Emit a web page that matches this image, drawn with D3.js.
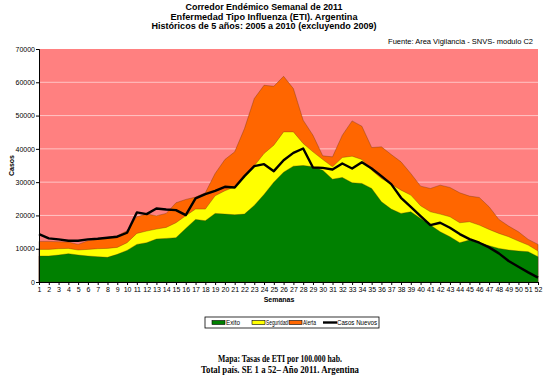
<!DOCTYPE html>
<html>
<head>
<meta charset="utf-8">
<script src="https://cdn.jsdelivr.net/npm/d3@7"></script>
<style>
  body { margin: 0; background: #fff; }
  svg { display: block; }
  .tick text { font-family: Arial, "Liberation Sans", sans-serif; font-size: 7px; }
</style>
</head>
<body>
<svg id="chart" width="550" height="379"></svg>
<script>
// weekly values (tops of each band, cumulative)
const weeks = d3.range(1, 53);
const exito = [7800, 7800, 8100, 8500, 8100, 7800, 7600, 7400, 8300, 9500,
  11300, 11800, 12900, 13100, 13300, 16100, 18800, 18400, 20600, 20400,
  20200, 20400, 23000, 26300, 30000, 33000, 34800, 35000, 34600, 33600,
  30900, 31400, 29800, 29600, 28100, 24100, 21900, 20600, 21100, 19100,
  17100, 15100, 13600, 11800, 12600, 11800, 10900, 10100, 9600, 9300,
  9100, 7600];
const seguridad = [9800, 9800, 10000, 10100, 9600, 9800, 10000, 10100, 10400, 11800,
  14600, 15300, 15900, 16400, 17800, 19900, 21900, 21900, 25900, 27400,
  28600, 31600, 34900, 38600, 41100, 45100, 45100, 41600, 39100, 36800,
  34600, 37400, 37800, 36800, 33600, 31100, 29400, 27600, 26100, 22900,
  21100, 20400, 19600, 17800, 18100, 17100, 15800, 14600, 13600, 12300,
  11100, 9300];
const alerta = [12200, 12200, 12100, 12000, 11300, 12400, 12800, 13400, 13900, 15400,
  19600, 20400, 19900, 20600, 23800, 24800, 25500, 26800, 32600, 36800,
  39100, 46100, 55100, 59100, 58800, 61800, 58100, 48600, 44100, 37900,
  37600, 44100, 48400, 46800, 40400, 40600, 38300, 36100, 32600, 28800,
  28100, 29100, 28400, 26800, 25800, 25400, 22600, 18800, 16800, 15100,
  12800, 11300];
const casosNuevos = [14400, 13100, 12800, 12400, 12400, 12800, 13000, 13300, 13600, 14800,
  20900, 20400, 22100, 21800, 21600, 20100, 25100, 26400, 27400, 28600,
  28400, 31800, 34800, 35400, 33300, 36600, 38800, 40100, 34400, 34300,
  33800, 35600, 34100, 36000, 34100, 31800, 29400, 25300, 22600, 19800,
  17100, 17800, 16300, 14400, 12900, 11800, 10400, 8600, 6300, 4600,
  2900, 1300];
const yTicks = [0, 10000, 20000, 30000, 40000, 50000, 60000, 70000];
const titleLines = [
  "Corredor Endémico Semanal de 2011",
  "Enfermedad Tipo Influenza (ETI).  Argentina",
  "Históricos de 5 años: 2005 a 2010 (excluyendo 2009)"
];
const footLines = [
  "Mapa: Tasas de ETI por 100.000 hab.",
  "Total país. SE 1 a 52– Año 2011. Argentina"
];

const svg = d3.select('#chart');
const margin = {left: 39, right: 12, top: 49, bottom: 97};
const W = 550, H = 379;
const sans = 'Arial, "Liberation Sans", sans-serif';

const x = d3.scaleLinear().domain([1, 52]).range([margin.left, W - margin.right]);
const y = d3.scaleLinear().domain([0, 70000]).range([H - margin.bottom, margin.top]);

// plot background (above alert band)
svg.append('rect')
  .attr('x', x(1)).attr('y', y(70000))
  .attr('width', x(52) - x(1)).attr('height', y(0) - y(70000))
  .attr('fill', '#ff8080');

// gridlines
svg.append('g').selectAll('line').data(yTicks.slice(1, -1)).join('line')
  .attr('x1', x(1)).attr('x2', x(52))
  .attr('y1', d => y(d)).attr('y2', d => y(d))
  .attr('stroke', '#ffc4c4').attr('stroke-width', 1);

const bands = [
  {vals: alerta, fill: '#ff6600'},
  {vals: seguridad, fill: '#ffff00'},
  {vals: exito, fill: '#008000'}
];
bands.forEach(b => {
  const area = d3.area()
    .x((d, i) => x(weeks[i]))
    .y0(y(0))
    .y1(d => y(d));
  svg.append('path')
    .datum(b.vals)
    .attr('d', area)
    .attr('fill', b.fill)
    .attr('stroke', '#5a2a10')
    .attr('stroke-opacity', 0.55)
    .attr('stroke-width', 0.6);
});

// casos nuevos line
svg.append('path')
  .datum(casosNuevos)
  .attr('d', d3.line().x((d, i) => x(weeks[i])).y(d => y(d)))
  .attr('fill', 'none')
  .attr('stroke', '#000')
  .attr('stroke-width', 2.4)
  .attr('stroke-linejoin', 'round');

// axes
svg.append('g')
  .attr('transform', `translate(${x(1)},0)`)
  .call(d3.axisLeft(y).tickValues(yTicks).tickSize(3).tickFormat(d3.format('d')))
  .call(g => g.select('.domain').attr('stroke', '#000'))
  .call(g => g.selectAll('.tick text').attr('x', -4));

svg.append('g')
  .attr('transform', `translate(0,${y(0)})`)
  .call(d3.axisBottom(x).tickValues(weeks).tickSize(3).tickFormat(d3.format('d')))
  .call(g => g.select('.domain').attr('stroke', '#000'))
  .call(g => g.selectAll('.tick text').attr('y', 5));

// titles
const titleWidths = [157, 187, 225];
svg.append('g').selectAll('text').data(titleLines).join('text')
  .attr('x', 264).attr('y', (d, i) => 10 + i * 9.6)
  .attr('text-anchor', 'middle')
  .attr('textLength', (d, i) => titleWidths[i])
  .attr('lengthAdjust', 'spacingAndGlyphs')
  .style('font-family', sans)
  .style('font-weight', 'bold').style('font-size', '9.5px')
  .text(d => d);

svg.append('text')
  .attr('x', 533).attr('y', 44)
  .attr('text-anchor', 'end')
  .style('font-family', sans)
  .style('font-size', '7.5px')
  .text('Fuente: Area Vigilancia - SNVS- modulo C2');

svg.append('text')
  .attr('transform', `translate(14,${(y(0) + y(70000)) / 2}) rotate(-90)`)
  .attr('text-anchor', 'middle')
  .style('font-family', sans)
  .style('font-weight', 'bold').style('font-size', '7px')
  .text('Casos');

svg.append('text')
  .attr('x', 279).attr('y', 302)
  .attr('text-anchor', 'middle')
  .style('font-family', sans)
  .style('font-weight', 'bold').style('font-size', '7px')
  .text('Semanas');

// legend
const legend = svg.append('g').attr('transform', 'translate(205,317)');
legend.append('rect').attr('width', 174).attr('height', 11)
  .attr('fill', '#fff').attr('stroke', '#000').attr('stroke-width', 0.8);
const legItems = [
  {name: 'Exito', fill: '#008000', x: 7, w: 14},
  {name: 'Seguridad', fill: '#ffff00', x: 47, w: 22},
  {name: 'Alerta', fill: '#ff6600', x: 84, w: 13},
  {name: 'Casos Nuevos', line: true, x: 118, w: 40}
];
legItems.forEach(it => {
  const g = legend.append('g').attr('transform', `translate(${it.x},0)`);
  if (it.line) {
    g.append('line').attr('x1', 0).attr('x2', 14).attr('y1', 5.5).attr('y2', 5.5)
      .attr('stroke', '#000').attr('stroke-width', 2.4);
  } else {
    g.append('rect').attr('x', 0).attr('y', 3.5).attr('width', 13).attr('height', 4)
      .attr('fill', it.fill).attr('stroke', '#000').attr('stroke-width', 0.6);
  }
  g.append('text').attr('x', 14).attr('y', 8)
    .attr('textLength', it.w).attr('lengthAdjust', 'spacingAndGlyphs')
    .style('font-family', sans)
    .style('font-size', '6.5px')
    .text(it.name);
});

// footer
const footWidths = [124, 158];
svg.append('g').selectAll('text').data(footLines).join('text')
  .attr('x', 280).attr('y', (d, i) => 362 + i * 10.5)
  .attr('text-anchor', 'middle')
  .attr('textLength', (d, i) => footWidths[i])
  .attr('lengthAdjust', 'spacingAndGlyphs')
  .style('font-family', '"Liberation Serif", "DejaVu Serif", serif')
  .style('font-weight', 'bold').style('font-size', '10.5px')
  .text(d => d);
</script>
</body>
</html>
